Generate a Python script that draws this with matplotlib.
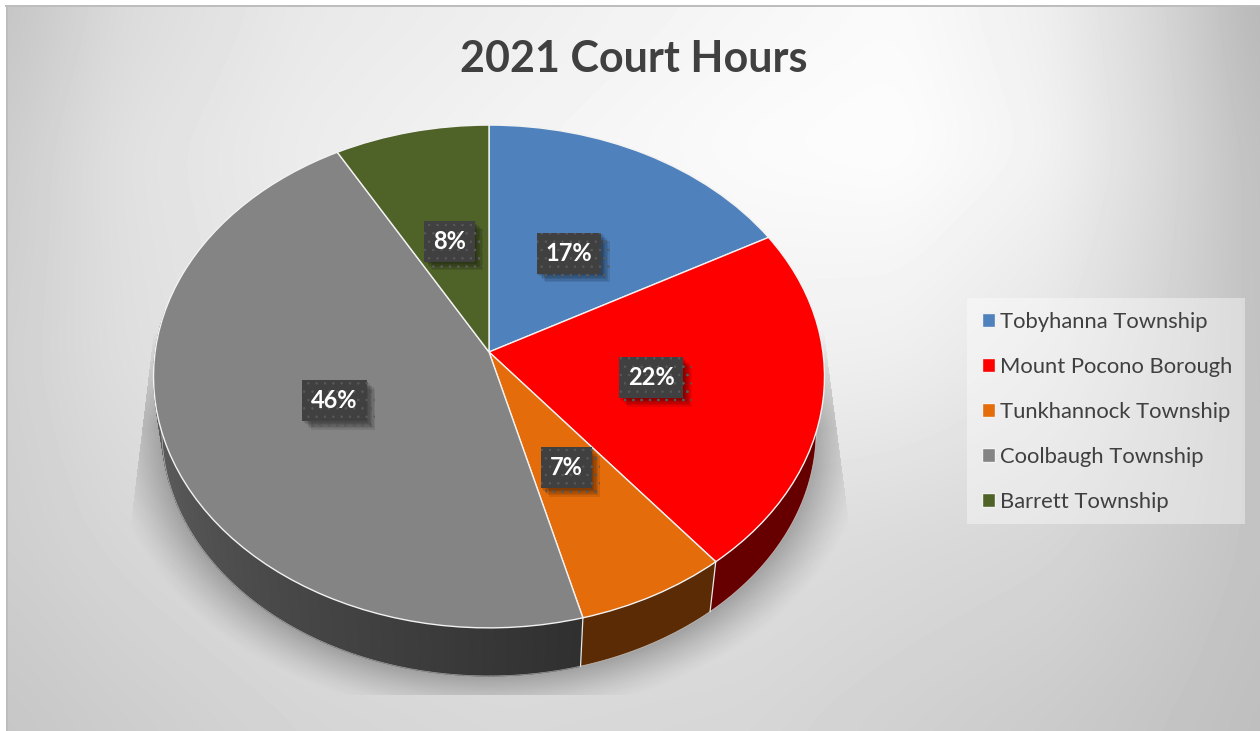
import numpy as np
import matplotlib
matplotlib.use("Agg")
import matplotlib.pyplot as plt
import matplotlib.patheffects as pe
from matplotlib.patches import Rectangle, Polygon
from matplotlib.transforms import Transform, ScaledTranslation

title = "2021 Court Hours"
townships = ["Tobyhanna Township", "Mount Pocono Borough", "Tunkhannock Township",
             "Coolbaugh Township", "Barrett Township"]
shares = [17.0, 22.2, 6.7, 45.9, 8.2]
top_colors = ["#4f81bd", "#ff0000", "#e46c0a", "#848484", "#4f6228"]
side_colors = ["#2f4d71", "#660000", "#5a2b04", "#505050", "#2f3b18"]

plt.rcParams["font.family"] = ["Lato", "DejaVu Sans"]
plt.rcParams["hatch.linewidth"] = 0.5


class Persp(Transform):
    input_dims = 2
    output_dims = 2
    is_separable = False
    has_inverse = False

    def __init__(self, x0, y0, A, B, k):
        super().__init__()
        self.p = (x0, y0, A, B, k)

    def transform_non_affine(self, v):
        x0, y0, A, B, k = self.p
        v = np.asarray(v, float)
        w = 1 + k * v[:, 1]
        return np.column_stack((x0 + A * v[:, 0] / w, y0 - B * v[:, 1] / w))


W, H = 1260, 731
fig = plt.figure(figsize=(W / 100, H / 100), dpi=100, facecolor="white")
ax = fig.add_axes([0, 0, 1, 1])

top = Persp(489, 352, 333.9, 249, 0.0973)
bottom = Persp(489, 407, 333.9 * 0.975, 249 * 0.975, 0.0973)

wedges, _, pct = ax.pie(shares, colors=top_colors, startangle=90, counterclock=False,
                        autopct="%.0f%%", pctdistance=0.49,
                        wedgeprops=dict(edgecolor="#f2f2f2", linewidth=1.0, zorder=2))
ax.set_aspect("auto")
for w_ in wedges:
    w_.set_transform(top + ax.transData)

# background gradient: bilinear through a coarse grid, then smoothed
bg_x = [6, 120, 300, 500, 750, 900, 1050, 1160, 1260]
bg_y = [5, 150, 360, 540, 731]
bg = np.array([
    [196, 218, 232, 238, 246, 250, 238, 214, 182],
    [204, 224, 236, 243, 251, 253, 242, 218, 190],
    [208, 222, 232, 236, 240, 238, 228, 212, 192],
    [206, 214, 222, 226, 222, 218, 214, 204, 194],
    [198, 204, 212, 216, 214, 208, 202, 196, 190]], float)
px = np.arange(W)
py = np.arange(H)
rows = np.array([np.interp(px, bg_x, r) for r in bg])
field = np.array([np.interp(py, bg_y, rows[:, j]) for j in range(W)]).T
kernel = np.hanning(121)
kernel /= kernel.sum()
pad = 60
field = np.pad(field, pad, mode="edge")
field = np.apply_along_axis(lambda c: np.convolve(c, kernel, "same"), 0, field)
field = np.apply_along_axis(lambda c: np.convolve(c, kernel, "same"), 1, field)
field = field[pad:-pad, pad:-pad]
ax.imshow(field[5:, 6:], cmap="gray", vmin=0, vmax=255, extent=(6, W, H, 5), aspect="auto",
          interpolation="nearest", zorder=0)
ax.add_patch(Rectangle((5, 4.5), W, 2, fc="#bdbdbd", ec="none", zorder=0.2))
ax.add_patch(Rectangle((5.5, 4.5), 2, H, fc="#bdbdbd", ec="none", zorder=0.2))

# drop shadow under the pie
yy, xx = np.mgrid[0:H, 0:W] + 0.5
rho = np.hypot((xx - 489) / 327, (yy - 430) / 246)
rho_top = np.hypot((xx - 489) / 335.5, (yy - 376) / 252)
dist = np.minimum(rho - 1, rho_top - 1) * 280
alpha = 0.27 * np.clip(1 - dist / 48, 0, 1) ** 1.3
alpha *= np.clip((yy - 330) / 100, 0, 1)
left_edge = 153 - (yy - 340) * 21 / 175
right_edge = 825 + (yy - 340) * 23 / 175
alpha[(xx < left_edge) | (xx > right_edge) | (yy > 695)] = 0
rgba = np.zeros((H, W, 4))
rgba[..., 3] = alpha
ax.imshow(rgba, extent=(0, W, H, 0), aspect="auto", zorder=0.5, interpolation="nearest")

# side wall, front half only
edges = np.cumsum([0] + shares) / sum(shares) * 360
for i in range(len(shares)):
    a0, a1 = max(edges[i], 80), min(edges[i + 1], 280)
    if a1 <= a0:
        continue
    steps = np.linspace(a0, a1, max(int((a1 - a0) * 1.5), 2))
    unit = np.column_stack((np.sin(np.radians(steps)), np.cos(np.radians(steps))))
    t, b = top.transform_non_affine(unit), bottom.transform_non_affine(unit)
    if townships[i].startswith("Coolbaugh"):
        shade = np.interp(steps, [165, 280], [48, 104])
        ax.pcolormesh(np.vstack((t[:, 0], b[:, 0])), np.vstack((t[:, 1], b[:, 1])),
                      np.vstack((shade, shade)), shading="gouraud", cmap="gray",
                      vmin=0, vmax=255, zorder=0.8)
    else:
        ax.add_patch(Polygon(np.vstack((t, b[::-1])), closed=True, fc=side_colors[i],
                             ec="none", zorder=0.8))

# seams and rim
for a in edges:
    if 80 < a < 280:
        u = np.array([[np.sin(np.radians(a)), np.cos(np.radians(a))]])
        t, b = top.transform_non_affine(u)[0], bottom.transform_non_affine(u)[0]
        ax.plot([t[0], b[0]], [t[1], b[1]], color="#e8e8e8", lw=0.9, zorder=1.5)
rim_a = np.radians(np.linspace(80, 280, 200))
rim = bottom.transform_non_affine(np.column_stack((np.sin(rim_a), np.cos(rim_a))))
ax.plot(rim[:, 0], rim[:, 1], color="white", lw=0.5, alpha=0.55, zorder=1.5)

# percentage labels
soft_shadow = [pe.SimplePatchShadow(offset=(o, -o), shadow_rgbFace="black", alpha=0.09)
               for o in (1, 2, 3, 4, 5, 6)] + [pe.Normal()]
label_shift = ScaledTranslation(0, -2 / 72 * 0.72, fig.dpi_scale_trans)
for t in pct:
    t.set_transform(top + ax.transData + label_shift)
    t.set(color="white", fontsize=17, fontweight="bold", ha="center", va="center", zorder=6)
    t.set_bbox(dict(boxstyle="square,pad=0.38", fc="#404040", ec="#5a5a5a", lw=0, hatch=".."))
    t.get_bbox_patch().set_path_effects(soft_shadow)

ax.text(634, 59, title, color="#404040", fontsize=31, fontweight="bold", ha="center", va="center", zorder=6)

# legend
ax.add_patch(Rectangle((967, 298), 278, 226, fc="white", alpha=0.4, ec="none", zorder=3))
ax.legend(wedges, townships, loc="upper left", bbox_to_anchor=(969.5, 299.5), bbox_transform=ax.transData,
          frameon=False, fontsize=15.8, labelcolor="#404040", handlelength=0.62, handleheight=0.62,
          handletextpad=0.22, labelspacing=1.14, borderaxespad=0, borderpad=0.55)

ax.set_xlim(0, W)
ax.set_ylim(H, 0)
ax.axis("off")
fig.savefig("out.png", dpi=100, facecolor="white")
